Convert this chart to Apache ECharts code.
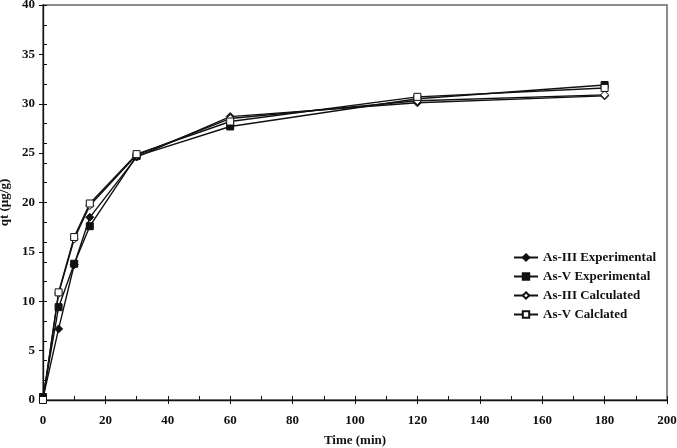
<!DOCTYPE html>
<html>
<head>
<meta charset="utf-8">
<script src="https://cdn.jsdelivr.net/npm/echarts@6/dist/echarts.min.js"></script>
<style>html,body{margin:0;padding:0;background:#fff}#c{width:677px;height:448px}</style>
</head>
<body>
<div id="c"></div>
<script>
const times = [0, 5, 10, 15, 30, 60, 120, 180];
const asIIIExp  = [0.2, 7.2, 13.7, 18.5, 24.6, 28.7, 30.1, 30.8];
const asVExp    = [0.3, 9.4, 13.8, 17.6, 24.7, 27.7, 30.5, 31.9];
const asIIICalc = [0.0, 10.8, 16.3, 19.7, 24.8, 28.5, 30.3, 30.9];
const asVCalc   = [0.0, 10.9, 16.5, 19.9, 24.9, 28.2, 30.7, 31.6];
const seriesNames = ['As-III Experimental', 'As-V Experimental', 'As-III Calculated', 'As-V Calclated'];

const font = 'Liberation Serif';
function pairs(v){ return times.map((t,i)=>[t, v[i]]); }
function mk(name, vals, symbol, filled, size){
  return {
    name: name, type: 'line', data: pairs(vals),
    symbol: symbol, symbolSize: size, showSymbol: true,
    lineStyle: {color: '#111', width: 1.4},
    itemStyle: {color: filled ? '#111' : '#fff', borderColor: '#111', borderWidth: 1},
    emphasis: {disabled: true}, z: 3
  };
}
const chart = echarts.init(document.getElementById('c'));
chart.setOption({
  animation: false,
  backgroundColor: '#fff',
  grid: {left: 43, right: 10, top: 5, bottom: 48, show: true, borderColor: '#666', borderWidth: 1.5,
         containLabel: false, outerBoundsMode: 'none'},
  legend: {
    orient: 'vertical', left: 508, top: 246, itemGap: 6, itemWidth: 24, itemHeight: 8,
    textStyle: {fontFamily: font, fontWeight: 'bold', fontSize: 13, color: '#111'},
    data: seriesNames
  },
  xAxis: [{
    type: 'value', min: 0, max: 200, interval: 20,
    name: 'Time (min)', nameLocation: 'middle', nameGap: 34,
    nameTextStyle: {fontFamily: font, fontWeight: 'bold', fontSize: 13, color: '#111'},
    axisLine: {show: true, onZero: false, lineStyle: {color: '#111', width: 1.3}},
    axisTick: {show: true, inside: true, length: 4, lineStyle: {color: '#111'}},
    minorTick: {show: true, splitNumber: 2, length: 4, lineStyle: {color: '#111'}},
    axisLabel: {margin: 14, fontFamily: font, fontWeight: 'bold', fontSize: 13, color: '#111'},
    splitLine: {show: false}
  }, {
    type: 'value', min: 0, max: 200, interval: 20, position: 'bottom',
    axisLine: {show: false}, axisTick: {show: true, inside: false, length: 4, lineStyle: {color: '#111'}},
    axisLabel: {show: false}, splitLine: {show: false}
  }],
  yAxis: [{
    type: 'value', min: 0, max: 40, interval: 5,
    name: 'qt (µg/g)', nameLocation: 'middle', nameGap: 28, nameRotate: 90,
    nameTextStyle: {fontFamily: font, fontWeight: 'bold', fontSize: 13, color: '#111'},
    axisLine: {show: true, onZero: false, lineStyle: {color: '#111', width: 1.3}},
    axisTick: {show: true, inside: false, length: 4, lineStyle: {color: '#111'}},
    axisLabel: {margin: 8, fontFamily: font, fontWeight: 'bold', fontSize: 13, color: '#111'},
    splitLine: {show: false}
  }, {
    type: 'value', min: 0, max: 40, interval: 2, position: 'left',
    axisLine: {show: false}, axisTick: {show: true, inside: true, length: 4, lineStyle: {color: '#111'}},
    axisLabel: {show: false}, splitLine: {show: false}
  }],
  series: [
    mk(seriesNames[0], asIIIExp, 'diamond', true, 8),
    mk(seriesNames[1], asVExp, 'rect', true, 7),
    mk(seriesNames[2], asIIICalc, 'diamond', false, 8),
    mk(seriesNames[3], asVCalc, 'rect', false, 7)
  ]
});
</script>
</body>
</html>
